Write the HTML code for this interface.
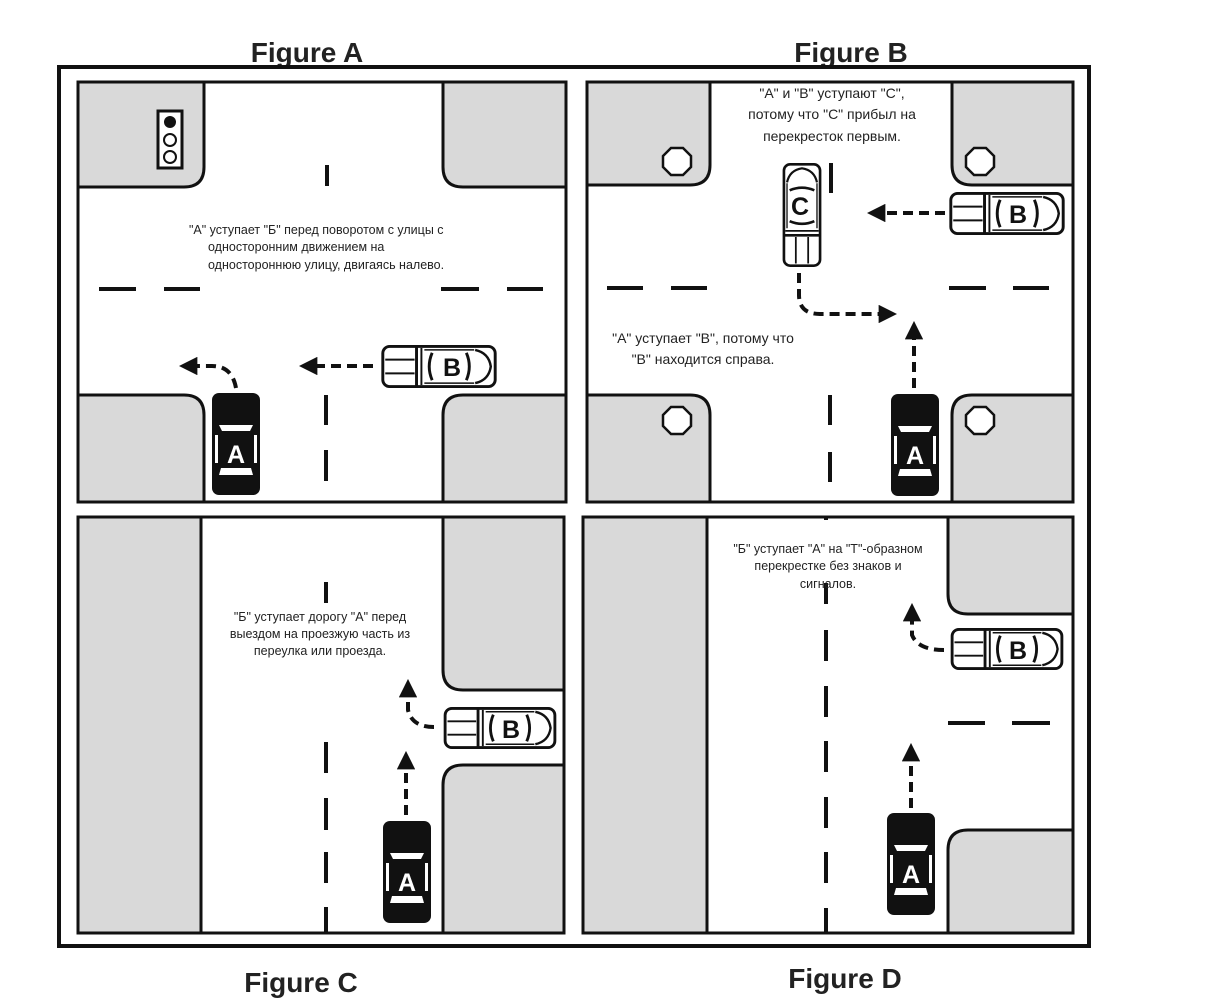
<!DOCTYPE html>
<html><head><meta charset="utf-8"><style>
html,body{margin:0;padding:0;background:#fff;}
svg{display:block}
.t{font-family:"Liberation Sans","DejaVu Sans",sans-serif;font-size:12.5px;fill:#222;text-anchor:middle}
.tb{font-family:"Liberation Sans","DejaVu Sans",sans-serif;font-size:14px;fill:#222;text-anchor:middle}
.ti{font-family:"Liberation Sans",sans-serif;font-size:28px;font-weight:bold;fill:#222;text-anchor:middle}
.g{fill:#d9d9d9;stroke:#111;stroke-width:3}
.d{stroke:#111;stroke-width:4;fill:none}
.ar{stroke:#111;stroke-width:4;fill:none;stroke-dasharray:10 6}
.lw{font-family:"Liberation Sans",sans-serif;font-weight:bold;font-size:25px;fill:#fff;text-anchor:middle}
.lb{font-family:"Liberation Sans",sans-serif;font-weight:bold;font-size:25px;fill:#111;text-anchor:middle}
</style></head><body>
<svg width="1228" height="1005" viewBox="0 0 1228 1005" xmlns="http://www.w3.org/2000/svg">
<defs>
<symbol id="wc" viewBox="0 0 118 44">
<rect x="1.5" y="1.5" width="115" height="41" rx="7" fill="#fff" stroke="#111" stroke-width="3"/>
<line x1="36" y1="2" x2="36" y2="42" stroke="#111" stroke-width="3"/>
<line x1="4" y1="15" x2="34" y2="15" stroke="#111" stroke-width="2"/>
<line x1="4" y1="29" x2="34" y2="29" stroke="#111" stroke-width="2"/>
<line x1="41" y1="3" x2="41" y2="41" stroke="#111" stroke-width="2"/>
<path d="M52 8 Q46 22 52 36" stroke="#111" stroke-width="3" fill="none"/>
<path d="M87 8 Q93 22 87 36" stroke="#111" stroke-width="3" fill="none"/>
<path d="M96 5 Q110 8 112 22 Q110 36 96 39" stroke="#111" stroke-width="2.5" fill="none"/>
<line x1="44" y1="5" x2="95" y2="5" stroke="#111" stroke-width="1.5"/>
<line x1="44" y1="39" x2="95" y2="39" stroke="#111" stroke-width="1.5"/>
</symbol>
<symbol id="bc" viewBox="0 0 48 102">
<rect x="0" y="0" width="48" height="102" rx="7" fill="#111"/>
<path d="M7 32 L41 32 L38 38 L10 38 Z" fill="#fff"/>
<rect x="3" y="42" width="3" height="28" fill="#fff"/>
<rect x="42" y="42" width="3" height="28" fill="#fff"/>
<path d="M9 75 L39 75 L41 82 L7 82 Z" fill="#fff"/>
</symbol>
<marker id="ah" viewBox="0 0 10 10" refX="4" refY="5" markerWidth="4.6" markerHeight="4.6" orient="auto">
<path d="M0 0 L10 5 L0 10 Z" fill="#111"/>
</marker>
</defs>

<text class="ti" x="307" y="62">Figure A</text>
<text class="ti" x="851" y="62">Figure B</text>
<text class="ti" x="301" y="992">Figure C</text>
<text class="ti" x="845" y="988">Figure D</text>

<rect x="59" y="67" width="1030" height="879" fill="none" stroke="#111" stroke-width="4"/>

<!-- Panel A -->
<rect x="78" y="82" width="488" height="420" fill="#fff" stroke="#111" stroke-width="3"/>
<path class="g" d="M78 82 H204 V167 Q204 187 184 187 H78 Z"/>
<path class="g" d="M566 82 H443 V167 Q443 187 463 187 H566 Z"/>
<path class="g" d="M78 502 H204 V415 Q204 395 184 395 H78 Z"/>
<path class="g" d="M566 502 H443 V415 Q443 395 463 395 H566 Z"/>
<rect x="158" y="111" width="24" height="57" fill="#fff" stroke="#111" stroke-width="3"/>
<circle cx="170" cy="122" r="6" fill="#111"/>
<circle cx="170" cy="140" r="6" fill="#fff" stroke="#111" stroke-width="2"/>
<circle cx="170" cy="157" r="6" fill="#fff" stroke="#111" stroke-width="2"/>
<line class="d" x1="99" y1="289" x2="136" y2="289"/><line class="d" x1="164" y1="289" x2="200" y2="289"/>
<line class="d" x1="441" y1="289" x2="479" y2="289"/><line class="d" x1="507" y1="289" x2="543" y2="289"/>
<line class="d" x1="327" y1="165" x2="327" y2="186"/>
<line class="d" x1="326" y1="395" x2="326" y2="425"/><line class="d" x1="326" y1="450" x2="326" y2="481"/>
<text class="t" x="189" y="234" style="text-anchor:start">"А" уступает "Б" перед поворотом с улицы с</text>
<text class="t" x="208" y="251" style="text-anchor:start">односторонним движением на</text>
<text class="t" x="208" y="269" style="text-anchor:start">одностороннюю улицу, двигаясь налево.</text>
<use href="#wc" x="380" y="345" width="118" height="43"/>
<text class="lb" x="452" y="376">B</text>
<use href="#bc" x="212" y="393" width="48" height="102"/>
<text class="lw" x="236" y="463">A</text>
<path class="ar" d="M373 366 H310" marker-end="url(#ah)"/>
<path class="ar" d="M236 388 Q232 366 212 366 H190" marker-end="url(#ah)"/>

<!-- Panel B -->
<rect x="587" y="82" width="486" height="420" fill="#fff" stroke="#111" stroke-width="3"/>
<path class="g" d="M587 82 H710 V165 Q710 185 690 185 H587 Z"/>
<path class="g" d="M1073 82 H952 V165 Q952 185 972 185 H1073 Z"/>
<path class="g" d="M587 502 H710 V415 Q710 395 690 395 H587 Z"/>
<path class="g" d="M1073 502 H952 V415 Q952 395 972 395 H1073 Z"/>
<g fill="#fff" stroke="#111" stroke-width="2.5">
<polygon points="671,148 683,148 691,156 691,167 683,175 671,175 663,167 663,156"/>
<polygon points="974,148 986,148 994,156 994,167 986,175 974,175 966,167 966,156"/>
<polygon points="671,407 683,407 691,415 691,426 683,434 671,434 663,426 663,415"/>
<polygon points="974,407 986,407 994,415 994,426 986,434 974,434 966,426 966,415"/>
</g>
<line class="d" x1="607" y1="288" x2="643" y2="288"/><line class="d" x1="671" y1="288" x2="707" y2="288"/>
<line class="d" x1="949" y1="288" x2="986" y2="288"/><line class="d" x1="1013" y1="288" x2="1049" y2="288"/>
<line class="d" x1="831" y1="163" x2="831" y2="193"/>
<line class="d" x1="830" y1="395" x2="830" y2="425"/><line class="d" x1="830" y1="452" x2="830" y2="482"/>
<text class="tb" x="832" y="98">"А" и "В" уступают "С",</text>
<text class="tb" x="832" y="119">потому что "С" прибыл на</text>
<text class="tb" x="832" y="141">перекресток первым.</text>
<text class="tb" x="703" y="343">"А" уступает "В", потому что</text>
<text class="tb" x="703" y="364">"В" находится справа.</text>
<use href="#wc" x="948" y="192" width="118" height="43"/>
<text class="lb" x="1018" y="223">B</text>
<g transform="translate(776 267) rotate(-90)"><use href="#wc" x="0" y="0" width="104" height="52"/></g>
<text class="lb" x="800" y="215">C</text>
<use href="#bc" x="891" y="394" width="48" height="102"/>
<text class="lw" x="915" y="464">A</text>
<path class="ar" d="M945 213 H878" marker-end="url(#ah)"/>
<path class="ar" d="M799 273 V295 Q799 314 820 314 H886" marker-end="url(#ah)"/>
<path class="ar" d="M914 388 V332" marker-end="url(#ah)"/>

<!-- Panel C -->
<rect x="78" y="517" width="486" height="416" fill="#fff" stroke="#111" stroke-width="3"/>
<rect class="g" x="78" y="517" width="123" height="416"/>
<path class="g" d="M564 517 H443 V670 Q443 690 463 690 H564 Z"/>
<path class="g" d="M564 933 H443 V785 Q443 765 463 765 H564 Z"/>
<line class="d" x1="326" y1="582" x2="326" y2="603"/><line class="d" x1="326" y1="742" x2="326" y2="773"/>
<line class="d" x1="326" y1="798" x2="326" y2="830"/><line class="d" x1="326" y1="852" x2="326" y2="883"/>
<line class="d" x1="326" y1="907" x2="326" y2="933"/>
<text class="t" x="320" y="621">"Б" уступает дорогу "А" перед</text>
<text class="t" x="320" y="638">выездом на проезжую часть из</text>
<text class="t" x="320" y="655">переулка или проезда.</text>
<use href="#wc" x="441" y="707" width="118" height="42"/>
<text class="lb" x="511" y="738">B</text>
<use href="#bc" x="383" y="821" width="48" height="102"/>
<text class="lw" x="407" y="891">A</text>
<path class="ar" d="M406 815 V762" marker-end="url(#ah)"/>
<path class="ar" d="M434 727 Q412 727 408 710 V690" marker-end="url(#ah)"/>

<!-- Panel D -->
<rect x="583" y="517" width="490" height="416" fill="#fff" stroke="#111" stroke-width="3"/>
<rect class="g" x="583" y="517" width="124" height="416"/>
<path class="g" d="M1073 517 H948 V594 Q948 614 968 614 H1073 Z"/>
<path class="g" d="M1073 933 H948 V850 Q948 830 968 830 H1073 Z"/>
<line class="d" x1="826" y1="517" x2="826" y2="520"/>
<line class="d" x1="826" y1="583" x2="826" y2="604"/><line class="d" x1="826" y1="630" x2="826" y2="661"/>
<line class="d" x1="826" y1="686" x2="826" y2="717"/><line class="d" x1="826" y1="741" x2="826" y2="772"/>
<line class="d" x1="826" y1="797" x2="826" y2="828"/><line class="d" x1="826" y1="852" x2="826" y2="883"/>
<line class="d" x1="826" y1="908" x2="826" y2="933"/>
<line class="d" x1="948" y1="723" x2="985" y2="723"/><line class="d" x1="1012" y1="723" x2="1050" y2="723"/>
<text class="t" x="828" y="553">"Б" уступает "А" на "Т"-образном</text>
<text class="t" x="828" y="570">перекрестке без знаков и</text>
<text class="t" x="828" y="588">сигналов.</text>
<use href="#wc" x="948" y="628" width="118" height="42"/>
<text class="lb" x="1018" y="659">B</text>
<use href="#bc" x="887" y="813" width="48" height="102"/>
<text class="lw" x="911" y="883">A</text>
<path class="ar" d="M911 808 V754" marker-end="url(#ah)"/>
<path class="ar" d="M944 650 Q918 650 912 635 V614" marker-end="url(#ah)"/>
</svg>
</body></html>
